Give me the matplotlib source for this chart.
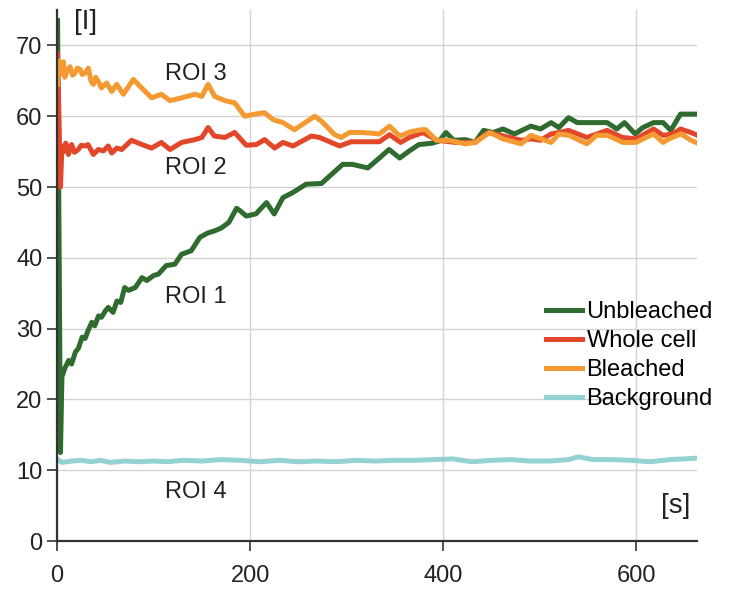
import matplotlib
matplotlib.use("Agg")
from matplotlib import pyplot as plt

plt.rcParams['font.family'] = ['Liberation Sans', 'DejaVu Sans']

# Unbleached (ROI 1)
t_unbleached = [0.5, 3.5, 5, 8, 12, 15, 19, 22, 26, 29, 32, 36, 39, 43, 46,
                50, 53, 58, 62, 66, 70, 74, 81, 88, 93, 100, 105, 113, 122,
                129, 139, 148, 156, 163, 170, 178, 186, 191, 196, 206, 217,
                225, 234, 244, 258, 274, 282, 296, 306, 322, 334, 344, 355,
                365, 375, 389, 396, 403, 411, 423, 433, 442, 452, 462, 474,
                491, 501, 512, 520, 530, 539, 552, 570, 580, 588, 599, 607,
                618, 628, 636, 646, 662]
unbleached = [73.5, 12.5, 23.2, 24.4, 25.5, 25.0, 26.7, 27.2, 28.8, 28.6,
              29.7, 30.9, 30.4, 31.8, 31.6, 32.5, 33.0, 32.3, 33.9, 33.7,
              35.8, 35.4, 35.8, 37.2, 36.8, 37.5, 37.7, 38.9, 39.1, 40.5,
              41.0, 42.9, 43.5, 43.8, 44.2, 45.0, 47.0, 46.5, 45.9, 46.2,
              47.8, 46.2, 48.5, 49.2, 50.4, 50.5, 51.5, 53.2, 53.2, 52.7,
              54.1, 55.3, 54.1, 55.1, 56.0, 56.2, 56.5, 57.7, 56.6, 56.7,
              56.3, 58.0, 57.7, 58.2, 57.5, 58.6, 58.2, 59.1, 58.4, 59.8,
              59.1, 59.1, 59.1, 58.2, 59.1, 57.5, 58.4, 59.1, 59.1, 58.0,
              60.3, 60.3]

# Whole cell (ROI 2)
t_whole = [0.5, 3.5, 5, 6.5, 9, 11.7, 15, 18, 22, 25, 29, 32, 37.6, 42.7,
           48, 53, 56.6, 61.8, 67, 77, 88, 98, 108, 117, 129, 143, 150,
           156.5, 163, 174, 184, 196, 206.6, 215, 225.5, 234, 244.5, 263.5,
           272, 292.7, 304.8, 334, 344.5, 356, 365, 379, 394, 413, 433, 447,
           460, 481, 491, 501, 512, 520, 530, 549, 570, 586, 600, 618, 628,
           638, 646, 657, 662]
whole_cell = [68.8, 50.0, 55.8, 55.0, 56.2, 54.6, 56.0, 54.9, 55.3, 55.9,
              55.8, 56.0, 54.6, 55.3, 55.1, 55.8, 54.8, 55.5, 55.3, 56.6,
              56.0, 55.5, 56.3, 55.3, 56.3, 56.7, 57.0, 58.4, 57.2, 57.0,
              57.7, 55.9, 56.0, 56.7, 55.5, 56.3, 55.8, 57.2, 57.0, 55.8,
              56.4, 56.4, 57.4, 56.3, 57.0, 57.7, 56.6, 56.3, 56.3, 57.7,
              57.3, 56.6, 56.8, 56.6, 57.5, 57.7, 58.0, 57.0, 58.0, 57.0,
              56.8, 58.2, 57.3, 57.5, 58.2, 57.7, 57.4]

# Bleached (ROI 3)
t_bleached = [0.5, 2, 4, 6.5, 8, 10, 13.4, 16, 18.6, 21, 24, 26, 29, 32.4,
              35, 37.6, 40, 42.7, 46, 51.4, 56.6, 61.8, 68.6, 79, 87.6, 98,
              108, 117, 129, 143, 150, 156.5, 163.4, 174, 184, 194.5, 205,
              215, 224, 234, 246, 267, 274, 287.6, 294.5, 303, 317, 334,
              344.5, 355, 366, 378, 382, 393, 406, 423, 433, 448.5, 462, 481,
              491, 512, 520, 530.5, 549, 559, 570, 586.5, 600, 618, 628, 634,
              646.5, 657, 662]
bleached = [64.5, 67.8, 66.0, 67.7, 65.5, 66.3, 67.0, 65.8, 66.1, 66.8,
            66.6, 65.9, 66.1, 66.8, 65.0, 64.5, 65.5, 64.9, 64.0, 64.7, 63.5,
            64.5, 63.1, 65.2, 64.0, 62.6, 63.1, 62.2, 62.6, 63.1, 62.8, 64.5,
            62.8, 62.2, 61.9, 60.0, 60.3, 60.5, 59.5, 59.1, 58.1, 60.0, 59.3,
            57.4, 57.0, 57.7, 57.7, 57.5, 58.6, 57.2, 57.8, 58.1, 58.1, 56.6,
            56.6, 56.1, 56.3, 57.7, 56.8, 56.1, 57.3, 56.3, 57.5, 57.3, 56.1,
            57.3, 57.3, 56.3, 56.3, 57.5, 56.3, 56.8, 57.5, 56.6, 56.3]

# Background (ROI 4)
t_background = [0, 5, 15, 25, 35, 45, 55, 70, 85, 100, 115, 130, 150, 170,
                190, 210, 230, 250, 270, 290, 310, 330, 350, 370, 390, 410,
                430, 450, 470, 490, 510, 530, 540, 555, 575, 595, 615, 635,
                650, 662]
background = [11.6, 11.1, 11.3, 11.4, 11.2, 11.4, 11.1, 11.3, 11.2, 11.3,
              11.2, 11.4, 11.3, 11.5, 11.4, 11.2, 11.4, 11.2, 11.3, 11.2,
              11.4, 11.3, 11.4, 11.4, 11.5, 11.6, 11.2, 11.4, 11.5, 11.3,
              11.3, 11.5, 11.9, 11.5, 11.5, 11.4, 11.2, 11.5, 11.6, 11.7]

x_ticks = [0, 200, 400, 600]
y_ticks = [0, 10, 20, 30, 40, 50, 60, 70]

fig = plt.figure(figsize=(7.32, 5.9), dpi=100)
ax = fig.add_axes([0.078, 0.083, 0.874, 0.90])

lw = 3.6
ax.plot(t_unbleached, unbleached, color='#2f6b2f', lw=lw, label='Unbleached',
        zorder=3)
ax.plot(t_whole, whole_cell, color='#e2472a', lw=lw, label='Whole cell',
        zorder=4)
ax.plot(t_bleached, bleached, color='#f59a32', lw=lw, label='Bleached',
        zorder=5)
ax.plot(t_background, background, color='#94d2d2', lw=lw,
        label='Background', zorder=3)

ax.set_xlim(0, 663)
ax.set_ylim(0, 75)
ax.set_xticks(x_ticks)
ax.set_yticks(y_ticks)

ax.grid(True, color='#d4d4d4', lw=1.0)
ax.set_axisbelow(True)
for side in ['top', 'right']:
    ax.spines[side].set_visible(False)
for side in ['left', 'bottom']:
    ax.spines[side].set_color('#333333')
    ax.spines[side].set_linewidth(1.6)
    ax.spines[side].set_zorder(6)
ax.tick_params(axis='both', labelsize=17, colors='#333333', length=7,
               width=1.2, labelcolor='#222222')
ax.tick_params(axis='x', pad=10)

txt = dict(fontsize=17, color='#222222', va='center')
ax.text(112, 65.9, 'ROI 3', **txt)
ax.text(112, 52.7, 'ROI 2', **txt)
ax.text(112, 34.4, 'ROI 1', **txt)
ax.text(112, 6.9, 'ROI 4', **txt)
ax.text(17, 73.3, '[I]', fontsize=20, color='#222222', va='center')
ax.text(626, 5.0, '[s]', fontsize=20, color='#222222', va='center')

ax.legend(loc='upper left', bbox_to_anchor=(0.75, 0.47), frameon=False,
          fontsize=17, handlelength=1.5, handletextpad=0.2,
          labelspacing=0.3, borderaxespad=0)

fig.savefig('out.png', dpi=100)
